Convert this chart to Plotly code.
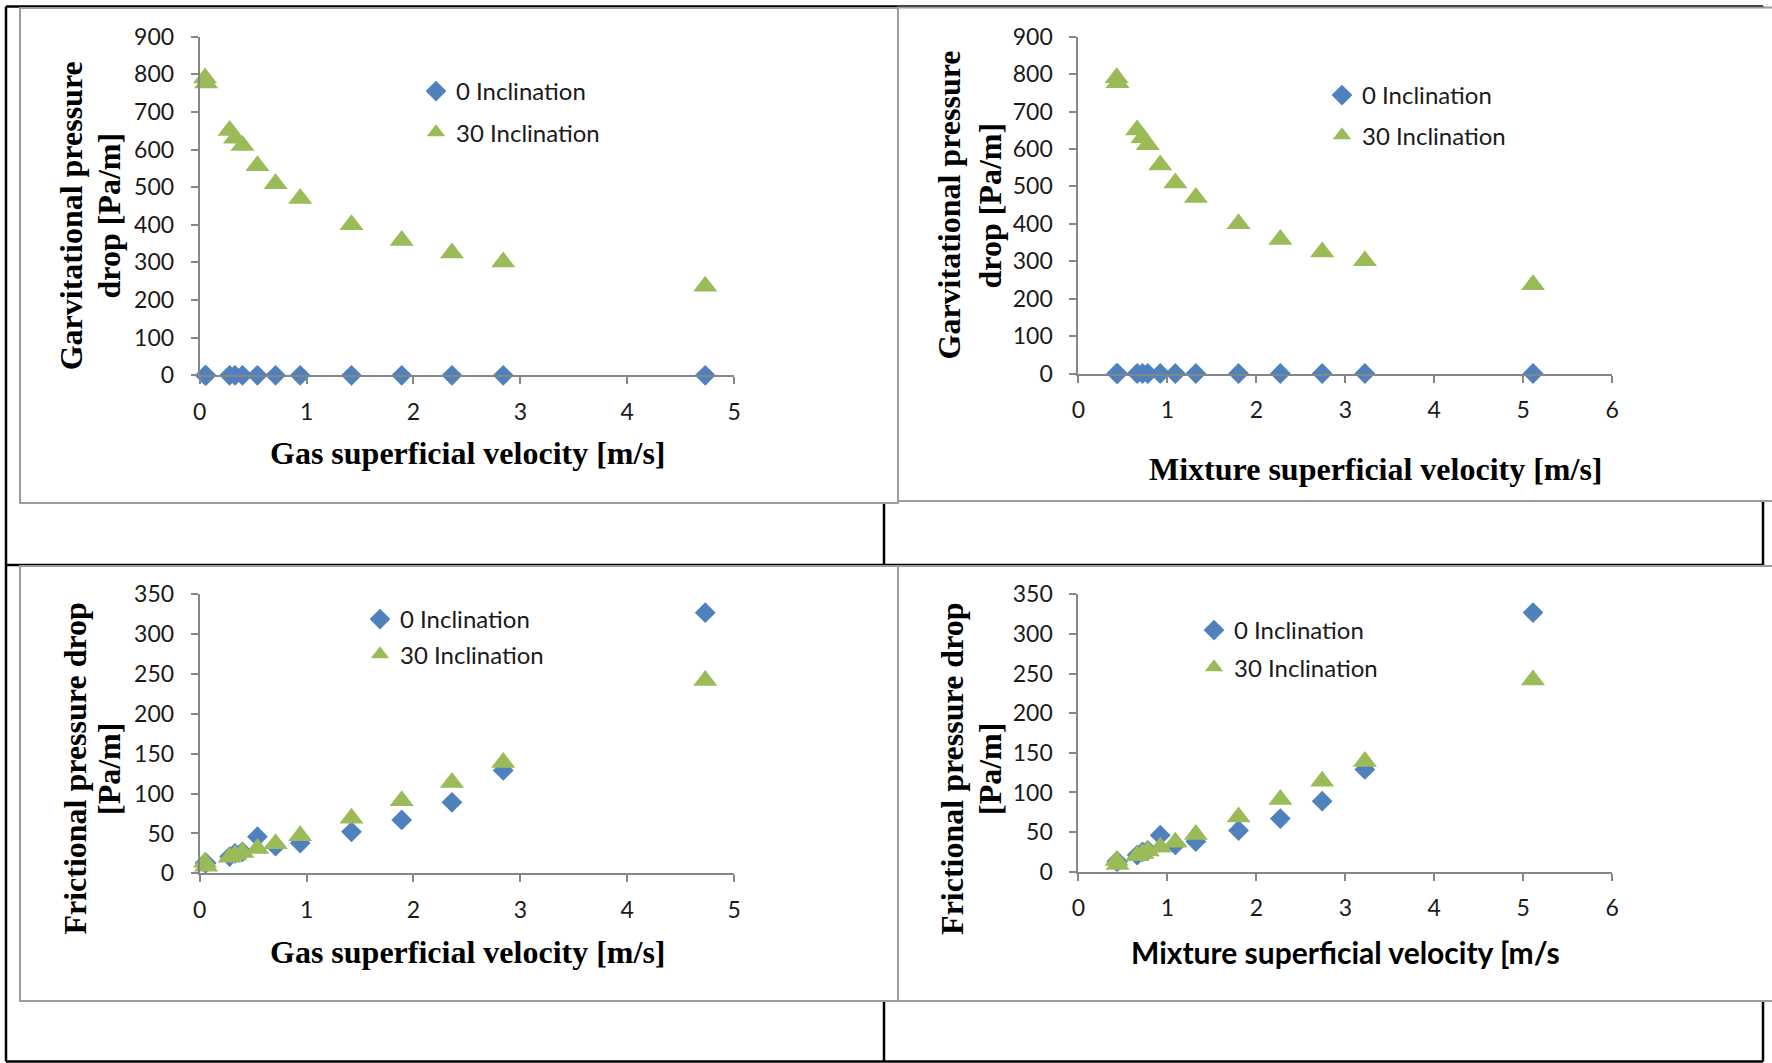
import plotly.graph_objects as go

# ---------------- data ----------------
gas_velocity = [0.05, 0.06, 0.28, 0.33, 0.40, 0.54, 0.71, 0.94, 1.42, 1.89, 2.36, 2.84, 4.73]
mixture_velocity = [0.43, 0.44, 0.66, 0.72, 0.78, 0.92, 1.09, 1.32, 1.80, 2.27, 2.74, 3.22, 5.11]

grav_0 = [0, 0, 0, 0, 0, 0, 0, 0, 0, 0, 0, 0, 0]
grav_30 = [790, 777, 651, 630, 611, 557, 509, 470, 400, 358, 325, 301, 237]

fric_0 = [13, 13, 21, 25, 27, 46, 34, 38, 52, 67, 89, 129, 327]
fric_30 = [14, 9, 20, 23, 26, 31, 37, 47, 69, 91, 114, 139, 242]

series_names = ["0 Inclination", "30 Inclination"]
x_titles = ["Gas superficial velocity [m/s]", "Mixture superficial velocity [m/s]",
            "Gas superficial velocity [m/s]", "Mixture superficial velocity [m/s"]
y_titles = [("Garvitational pressure", "drop [Pa/m]"),
            ("Garvitational pressure", "drop [Pa/m]"),
            ("Frictional pressure drop", "[Pa/m]"),
            ("Frictional pressure drop", "[Pa/m]")]

# ---------------- layout helpers ----------------
W, H = 1772, 1063


def fx(px):
    return px / W


def fy(py):
    return 1 - py / H


BLUE = "#4F81BD"
GREEN = "#9BBB59"
AXIS_GRAY = "#868686"
FRAME_GRAY = "#9c9c9c"
TICK_FONT = dict(family="Lato, Roboto, sans-serif", size=23, color="#1a1a1a")
SERIF = "Liberation Serif, Times New Roman, serif"

panels = [
    dict(x=gas_velocity, y0=grav_0, y1=grav_30, xd=(199.7, 734.1), yd=(375.3, 36.7),
         xr=[0, 5], yr=[0, 900], dy=100, leg=(416, 69, 7),
         xt=(467, 452.7), yt=(71.8, 109, 215.5), xfont="serif"),
    dict(x=mixture_velocity, y0=grav_0, y1=grav_30, xd=(1078.4, 1612.2), yd=(373.5, 36.7),
         xr=[0, 6], yr=[0, 900], dy=100, leg=(1322, 73, 6),
         xt=(1376, 469), yt=(949, 990, 205.5), xfont="serif"),
    dict(x=gas_velocity, y0=fric_0, y1=fric_30, xd=(199.7, 734.1), yd=(873.3, 594.3),
         xr=[0, 5], yr=[0, 350], dy=50, leg=(360, 597, 1),
         xt=(467, 951.7), yt=(74.6, 109, 769), xfont="serif"),
    dict(x=mixture_velocity, y0=fric_0, y1=fric_30, xd=(1078.4, 1612.2), yd=(871.7, 594.3),
         xr=[0, 6], yr=[0, 350], dy=50, leg=(1194, 608, 3),
         xt=(1345.6, 951.7), yt=(951.9, 990, 769), xfont="sans"),
]

fig = go.Figure()
layout = dict(
    width=W, height=H,
    autosize=False,
    margin=dict(l=0, r=0, t=0, b=0, pad=0, autoexpand=False),
    paper_bgcolor="white",
    plot_bgcolor="rgba(0,0,0,0)",
    showlegend=True,
)

annotations = []
for i, p in enumerate(panels):
    n = "" if i == 0 else str(i + 1)
    xa, ya = "x" + n, "y" + n
    leg = "legend" + n
    fig.add_trace(go.Scatter(
        x=p["x"], y=p["y0"], mode="markers", name=series_names[0],
        marker=dict(symbol="diamond", size=16, color=BLUE, line=dict(width=0)),
        xaxis=xa, yaxis=ya, legend=leg, legendgroup="a%d" % i, cliponaxis=False))
    fig.add_trace(go.Scatter(
        x=p["x"], y=p["y1"], mode="markers", name=series_names[1],
        marker=dict(symbol="triangle-up", size=21, color=GREEN, line=dict(width=0)),
        xaxis=xa, yaxis=ya, legend=leg, legendgroup="b%d" % i, cliponaxis=False))

    axis_common = dict(showgrid=False, zeroline=False, showline=True, linecolor=AXIS_GRAY,
                       linewidth=2, ticks="outside", ticklen=7, tickwidth=2,
                       tickcolor=AXIS_GRAY, tickfont=TICK_FONT, fixedrange=True,
                       automargin=False)
    layout["xaxis" + n] = dict(axis_common, domain=[fx(p["xd"][0]), fx(p["xd"][1])],
                               range=p["xr"], dtick=1, tick0=0, anchor=ya,
                               ticklabelstandoff=8)
    layout["yaxis" + n] = dict(axis_common, domain=[fy(p["yd"][0]), fy(p["yd"][1])],
                               range=p["yr"], dtick=p["dy"], tick0=0, anchor=xa,
                               ticklabelstandoff=12)
    lx, ly, gap = p["leg"]
    layout[leg] = dict(x=fx(lx), y=fy(ly), xanchor="left", yanchor="top",
                       bgcolor="rgba(0,0,0,0)", borderwidth=0,
                       font=dict(family="Lato, Roboto, sans-serif", size=24, color="#1a1a1a"),
                       traceorder="grouped", tracegroupgap=gap, itemclick=False)

    # axis titles
    if p["xfont"] == "serif":
        xf = dict(family=SERIF, size=32, color="black", weight="bold")
    else:
        xf = dict(family="Lato, Roboto, sans-serif", size=30, color="black", weight="bold")
    annotations.append(dict(text=x_titles[i], x=fx(p["xt"][0]), y=fy(p["xt"][1]),
                            xref="paper", yref="paper", xanchor="center", yanchor="middle",
                            showarrow=False, font=xf))
    for k in range(2):
        annotations.append(dict(text=y_titles[i][k], x=fx(p["yt"][k]), y=fy(p["yt"][2]),
                                xref="paper", yref="paper", xanchor="center", yanchor="middle",
                                textangle=-90, showarrow=False,
                                font=dict(family=SERIF, size=32, color="black", weight="bold")))

layout["annotations"] = annotations

# ---------------- page frame: table lines and chart frames ----------------
shapes = []
BLACK = dict(color="black", width=2.5)
for (x0, y0, x1, y1) in [(6, 6.5, 1763, 6.5), (6, 1061.5, 1763, 1061.5), (6, 6.5, 6, 1061.5),
                         (1763, 6.5, 1763, 1061.5), (6, 565, 1763, 565), (884, 6.5, 884, 1061.5)]:
    shapes.append(dict(type="line", xref="paper", yref="paper", x0=fx(x0), y0=fy(y0),
                       x1=fx(x1), y1=fy(y1), line=BLACK, layer="below"))
for (x0, y0, x1, y1) in [(20, 8, 898, 503), (898, 7.5, 1790, 501),
                         (20, 566, 898, 1001), (898, 566, 1790, 1001)]:
    shapes.append(dict(type="rect", xref="paper", yref="paper", x0=fx(x0), y0=fy(y0),
                       x1=fx(x1), y1=fy(y1), line=dict(color=FRAME_GRAY, width=2),
                       fillcolor="white", layer="below"))
layout["shapes"] = shapes

fig.update_layout(**layout)

# pin the graph to the page's top-left corner so the page is exactly the figure size
POST = ("document.documentElement.style.margin='0';document.body.style.margin='0';"
        "document.body.style.overflow='hidden';document.documentElement.style.overflow='hidden';"
        "var gd=document.getElementById('{plot_id}');gd.style.position='absolute';"
        "gd.style.left='0px';gd.style.top='0px';")
fig.write_html("out.html", post_script=POST)
